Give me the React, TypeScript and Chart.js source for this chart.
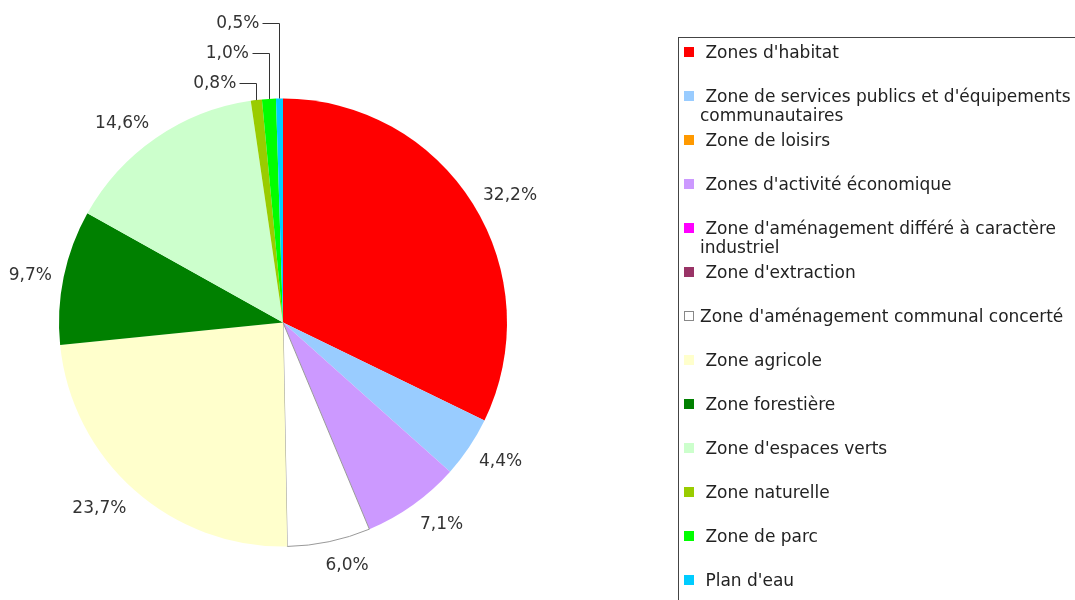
import React, { useEffect, useRef } from 'react';
import { Chart, registerables } from 'chart.js';

Chart.register(...registerables);

const categories = [
  "Zones d'habitat",
  "Zone de services publics et d'équipements communautaires",
  "Zone de loisirs",
  "Zones d'activité économique",
  "Zone d'aménagement différé à caractère industriel",
  "Zone d'extraction",
  "Zone d'aménagement communal concerté",
  "Zone agricole",
  "Zone forestière",
  "Zone d'espaces verts",
  "Zone naturelle",
  "Zone de parc",
  "Plan d'eau",
];

const sharePercent = [32.2, 4.4, 0, 7.1, 0, 0, 6.0, 23.7, 9.7, 14.6, 0.8, 1.0, 0.5];

const sliceColors = [
  '#FF0000', '#99CCFF', '#FF9900', '#CC99FF', '#FF00FF', '#993366', '#FFFFFF',
  '#FFFFCC', '#008000', '#CCFFCC', '#99CC00', '#00FF00', '#00CCFF',
];

const FONT = '"DejaVu Sans", Verdana, sans-serif';

const fmt = (v: number) => v.toFixed(1).replace('.', ',') + '%';

const clamp = (v: number, lo: number, hi: number) => Math.max(lo, Math.min(hi, v));

const labelPlugin = {
  id: 'pieLabels',
  afterDatasetsDraw(chart: any) {
    const ctx = chart.ctx;
    const meta = chart.getDatasetMeta(0);
    const data = chart.data.datasets[0].data as number[];
    ctx.save();
    ctx.font = '17px ' + FONT;
    ctx.fillStyle = '#333333';
    ctx.strokeStyle = '#333333';
    ctx.lineWidth = 1;
    ctx.textBaseline = 'middle';
    let k = 0;
    meta.data.forEach((arc: any, i: number) => {
      const v = data[i];
      if (!v) return;
      const { x, y, startAngle, endAngle, outerRadius } = arc.getProps(
        ['x', 'y', 'startAngle', 'endAngle', 'outerRadius'],
        true
      );
      const mid = (startAngle + endAngle) / 2;
      const text = fmt(v);
      if (v >= 2) {
        const R = outerRadius + 12;
        const c = Math.cos(mid);
        const s = Math.sin(mid);
        const hw = ctx.measureText(text).width / 2;
        const cx = x + R * c + hw * clamp(3.5 * c, -1, 1);
        const cy = y + R * s + 9 * s + 3;
        ctx.textAlign = 'center';
        ctx.fillText(text, cx, cy);
      } else {
        const ex = x + outerRadius * Math.cos(mid);
        const ey = y + outerRadius * Math.sin(mid);
        const ly = y - outerRadius - 15.5 - 30 * k;
        k++;
        ctx.textAlign = 'right';
        ctx.fillText(text, ex - 20, ly + 1);
        const lx = Math.round(ex) + 0.5;
        const lyy = Math.round(ly) + 0.5;
        ctx.beginPath();
        ctx.moveTo(lx - 17, lyy);
        ctx.lineTo(lx, lyy);
        ctx.lineTo(lx, ey);
        ctx.stroke();
      }
    });
    ctx.restore();
  },
};

export default function App() {
  const ref = useRef<HTMLCanvasElement | null>(null);

  useEffect(() => {
    const prevMargin = document.body.style.margin;
    document.body.style.margin = '0';
    if (!ref.current) return;
    const chart = new Chart(ref.current, {
      type: 'pie',
      data: {
        labels: categories,
        datasets: [
          {
            data: sharePercent,
            backgroundColor: sliceColors,
            borderColor: sliceColors.map((c) => (c === '#FFFFFF' ? '#999999' : c)),
            borderWidth: sliceColors.map((c) => (c === '#FFFFFF' ? 1 : 0)),
            radius: 224,
            offset: 0,
            hoverOffset: 0,
          } as any,
        ],
      },
      options: {
        animation: false,
        responsive: false,
        maintainAspectRatio: false,
        events: [],
        layout: { padding: { left: 0, right: 509, top: 45, bottom: 0 } },
        plugins: {
          legend: { display: false },
          tooltip: { enabled: false },
        },
      } as any,
      plugins: [labelPlugin],
    });
    return () => {
      chart.destroy();
      document.body.style.margin = prevMargin;
    };
  }, []);

  return (
    <div
      style={{
        position: 'fixed',
        left: 0,
        top: 0,
        width: 1075,
        height: 600,
        overflow: 'hidden',
        background: '#ffffff',
      }}
    >
      <canvas
        ref={ref}
        width={1075}
        height={600}
        style={{ position: 'absolute', left: 0, top: 0, width: 1075, height: 600 }}
      />
      <div
        style={{
          position: 'absolute',
          left: 678,
          top: 37,
          width: 500,
          height: 700,
          borderLeft: '1px solid #444444',
          borderTop: '1px solid #444444',
          boxSizing: 'border-box',
        }}
      />
      {categories.map((name, i) => {
        const hollow = sliceColors[i] === '#FFFFFF';
        return (
          <React.Fragment key={name}>
            <div
              style={{
                position: 'absolute',
                left: 684,
                top: 47 + 44 * i,
                width: 10,
                height: 10,
                boxSizing: 'border-box',
                background: sliceColors[i],
                border: hollow ? '1px solid #888888' : 'none',
              }}
            />
            <div
              style={{
                position: 'absolute',
                left: 700,
                top: 43 + 44 * i,
                width: 376,
                font: '17px ' + FONT,
                lineHeight: '19px',
                color: '#222222',
                whiteSpace: 'normal',
              }}
            >
              {(hollow ? '' : '\u00a0') + name}
            </div>
          </React.Fragment>
        );
      })}
    </div>
  );
}
